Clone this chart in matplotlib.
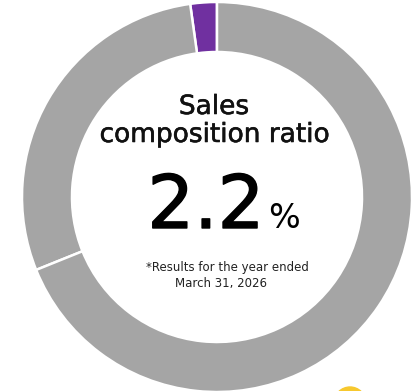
import matplotlib.pyplot as plt
import matplotlib.patheffects as pe
from matplotlib.patches import Circle

# segment shares of sales (%), first one is the highlighted segment
labels = ['Segment', 'Other A', 'Other B']
shares = [2.2, 28.9, 68.9]
colors = ['#7030a0', '#a5a5a5', '#a5a5a5']

title_lines = ['Sales', 'composition ratio']
value_text = '2.2'
note_lines = ['*Results for the year ended', 'March 31, 2026']

fig = plt.figure(figsize=(4.13, 3.91), dpi=100)
ax = fig.add_axes([0, 0, 1, 1])
ax.set_xlim(0, 413)
ax.set_ylim(0, 391)
ax.set_aspect('equal')
ax.axis('off')

cx, cy = 217, 194
ax.pie(shares, colors=colors, startangle=90, counterclock=True,
       radius=195, center=(cx, cy),
       wedgeprops=dict(width=50, edgecolor='white', linewidth=1.8))
ax.set_xlim(0, 413)
ax.set_ylim(0, 391)

fam = ['DejaVu Sans']
# slightly heavier strokes than the regular weight
thick = [pe.withStroke(linewidth=0.4, foreground='#111111')]
ax.text(214, 284, title_lines[0], ha='center', va='center', fontsize=19,
        family=fam, color='#111111', path_effects=thick)
ax.text(215, 256, title_lines[1], ha='center', va='center', fontsize=19,
        family=fam, color='#111111', path_effects=thick)

ax.text(206, 163, value_text, ha='center', va='baseline', fontsize=53,
        family=fam, color='black',
        path_effects=[pe.withStroke(linewidth=1.0, foreground='black')])
ax.text(268, 163, '%', ha='left', va='baseline', fontsize=24,
        family=fam, color='black')

ax.text(227, 123, note_lines[0], ha='center', va='center', fontsize=8.5,
        family=fam, color='#222222')
ax.text(221, 107, note_lines[1], ha='center', va='center', fontsize=8.5,
        family=fam, color='#222222')

# small yellow badge peeking in at the bottom edge
ax.add_patch(Circle((350, -12), 16, color='#f7c82e', clip_on=True))

fig.savefig('out.png', dpi=100)
